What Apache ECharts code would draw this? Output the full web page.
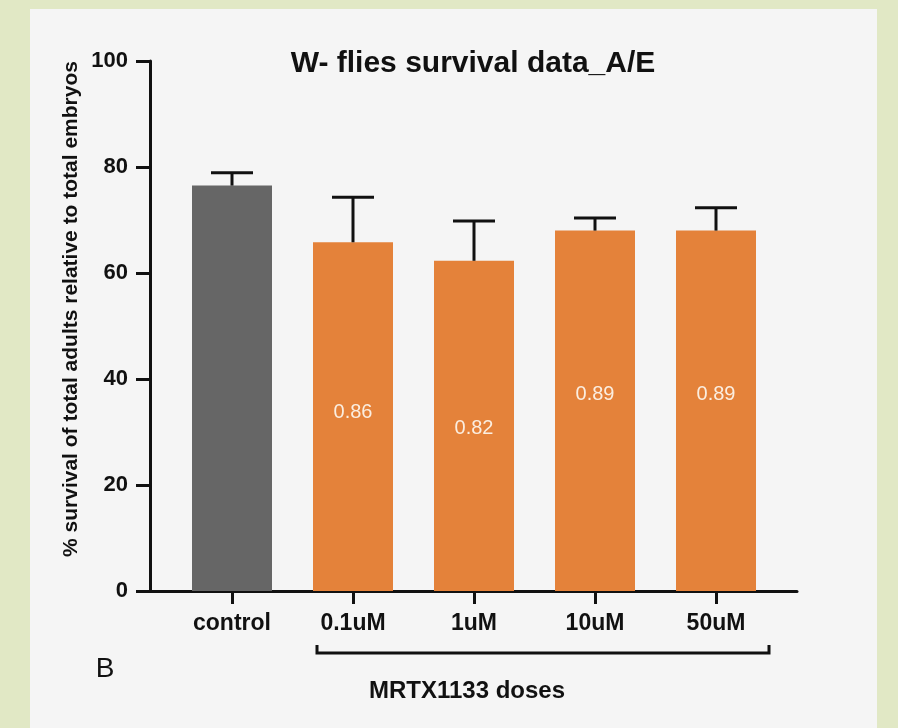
<!DOCTYPE html>
<html>
<head>
<meta charset="utf-8">
<script src="https://cdn.jsdelivr.net/npm/echarts@6/dist/echarts.min.js"></script>
<style>
  html, body { margin:0; padding:0; width:898px; height:728px; background:#e1e8c5; overflow:hidden; }
  #panel { position:absolute; left:30px; top:9px; width:847px; height:719px; background:#f5f5f5; }
  #chart { position:absolute; left:0; top:0; width:898px; height:728px; }
</style>
</head>
<body>
<div id="panel"></div>
<div id="chart"></div>
<script>
// ---- data ----
const categories = ['control', '0.1uM', '1uM', '10uM', '50uM'];
const meanValues = [76.5, 65.8, 62.3, 68.0, 68.0];
const upperError = [2.4, 8.5, 7.5, 2.4, 4.3];
const barColors = ['#666666', '#e4823a', '#e4823a', '#e4823a', '#e4823a'];
const ratioLabels = ['', '0.86', '0.82', '0.89', '0.89'];
const ratioLabelY = [null, 33.7, 30.6, 37, 37];
const yTicks = [0, 20, 40, 60, 80, 100];

const FONT = '"Liberation Sans", Arial, Helvetica, sans-serif';
const chart = echarts.init(document.getElementById('chart'), null, { renderer: 'canvas' });

const barData = meanValues.map((v, i) => ({ value: v, itemStyle: { color: barColors[i] } }));
const errData = meanValues.map((v, i) => [i, v, v + upperError[i]]);
const labData = ratioLabels.map((t, i) => [i, ratioLabelY[i] == null ? 0 : ratioLabelY[i], t]).filter(d => d[2] !== '');

const option = {
  backgroundColor: 'transparent',
  animation: false,
  grid: [
    { left: 150, right: 101, top: 61, bottom: 137 },
    { left: 171.5, right: 121.5, top: 61, bottom: 137 }
  ],
  xAxis: [
    { type: 'value', gridIndex: 0, min: 0, max: 1,
      axisLine: { show: true, lineStyle: { color: '#111', width: 3 } },
      axisTick: { show: false }, axisLabel: { show: false }, splitLine: { show: false } },
    { type: 'category', gridIndex: 1, data: categories,
      axisLine: { show: false },
      axisTick: { show: true, alignWithLabel: true, length: 13, lineStyle: { color: '#111', width: 3 } },
      axisLabel: { color: '#111', fontFamily: FONT, fontWeight: 'bold', fontSize: 23, margin: 21 },
      splitLine: { show: false } }
  ],
  yAxis: [
    { type: 'value', gridIndex: 0, min: 0, max: 100, interval: 20,
      axisLine: { show: true, lineStyle: { color: '#111', width: 3 } },
      axisTick: { show: true, length: 14, lineStyle: { color: '#111', width: 3 } },
      axisLabel: { color: '#111', fontFamily: FONT, fontWeight: 'bold', fontSize: 22, margin: 22,
        formatter: v => (yTicks.indexOf(v) >= 0 ? String(v) : '') },
      splitLine: { show: false } },
    { type: 'value', gridIndex: 1, min: 0, max: 100, interval: 20, show: false, splitLine: { show: false } }
  ],
  series: [
    { type: 'bar', xAxisIndex: 1, yAxisIndex: 1, data: barData, barWidth: 80, z: 2 },
    { type: 'custom', xAxisIndex: 1, yAxisIndex: 1, z: 3, data: errData,
      renderItem: function (params, api) {
        const x = api.coord([api.value(0), api.value(1)])[0];
        const yB = api.coord([api.value(0), api.value(1)])[1];
        const yT = api.coord([api.value(0), api.value(2)])[1];
        const half = 21;
        const st = { stroke: '#111', lineWidth: 3 };
        return { type: 'group', children: [
          { type: 'line', shape: { x1: x, y1: yB, x2: x, y2: yT }, style: st },
          { type: 'line', shape: { x1: x - half, y1: yT, x2: x + half, y2: yT }, style: st }
        ] };
      } },
    { type: 'custom', xAxisIndex: 1, yAxisIndex: 1, z: 4, data: labData,
      renderItem: function (params, api) {
        const p = api.coord([api.value(0), api.value(1)]);
        return { type: 'text', x: p[0], y: p[1], style: {
          text: labData[params.dataIndex][2], fill: '#fbeee0', font: '20px ' + FONT,
          align: 'center', verticalAlign: 'middle' } };
      } }
  ],
  graphic: [
    { type: 'text', x: 473, y: 64, style: { text: 'W- flies survival data_A/E', fill: '#111',
        font: 'bold 30px ' + FONT, align: 'center', verticalAlign: 'middle' } },
    { type: 'text', x: 71, y: 309, rotation: Math.PI / 2, style: {
        text: '% survival of total adults relative to total embryos', fill: '#111',
        font: 'bold 21px ' + FONT, align: 'center', verticalAlign: 'middle' } },
    { type: 'text', x: 105, y: 669, style: { text: 'B', fill: '#111', font: '28px ' + FONT,
        align: 'center', verticalAlign: 'middle' } },
    { type: 'text', x: 467, y: 691, style: { text: 'MRTX1133 doses', fill: '#111',
        font: 'bold 24px ' + FONT, align: 'center', verticalAlign: 'middle' } },
    { type: 'polyline', shape: { points: [[317, 645], [317, 653], [769, 653], [769, 645]] },
      style: { stroke: '#111', lineWidth: 3, fill: null } }
  ]
};
chart.setOption(option);
</script>
</body>
</html>
